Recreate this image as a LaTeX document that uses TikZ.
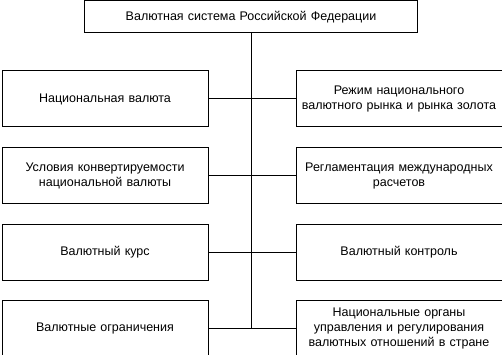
\documentclass[tikz,border=0pt]{standalone}
\usepackage{fontspec}
\setmainfont{Liberation Sans}
\usetikzlibrary{positioning}
\tikzset{
    box/.style={rectangle, draw=black, line width=1pt, text width=205pt, align=center, minimum width=206pt, minimum height=56pt, inner sep=0.5pt, font=\fontsize{12.5}{15}\selectfont},
    head/.style={box, text width=325pt, minimum width=333pt, minimum height=32pt},
    link/.style={line width=1pt}
}

\begin{document}
\begin{tikzpicture}[x=1pt, y=1pt]
    \useasboundingbox (0,0) rectangle (502,-355);

    % --- Top ---
    \node (sys) [head] at (251,-17) {Валютная система Российской Федерации};

    % --- Left column ---
    \node (nv) [box] at (105,-99) {Национальная валюта};
    \node (usl) [box, below=19.5pt of nv] {Условия конвертируемости \\ национальной валюты};
    \node (kurs) [box, below=19.5pt of usl] {Валютный курс};
    \node (ogr) [box, below=19.5pt of kurs] {Валютные ограничения};

    % --- Right column ---
    \node (rezh) [box, right=87pt of nv] {Режим национального \\ валютного рынка и рынка золота};
    \node (regl) [box, right=87pt of usl] {Регламентация международных \\ расчетов};
    \node (kontr) [box, right=87pt of kurs] {Валютный контроль};
    \node (org) [box, right=87pt of ogr] {Национальные органы \\ управления и регулирования \\ валютных отношений в стране};

    % --- Connectors ---
    \draw [link] (sys.south) -- (sys.south |- ogr.east);
    \draw [link] (nv.east) -- (rezh.west);
    \draw [link] (usl.east) -- (regl.west);
    \draw [link] (kurs.east) -- (kontr.west);
    \draw [link] (ogr.east) -- (org.west);
\end{tikzpicture}
\end{document}
